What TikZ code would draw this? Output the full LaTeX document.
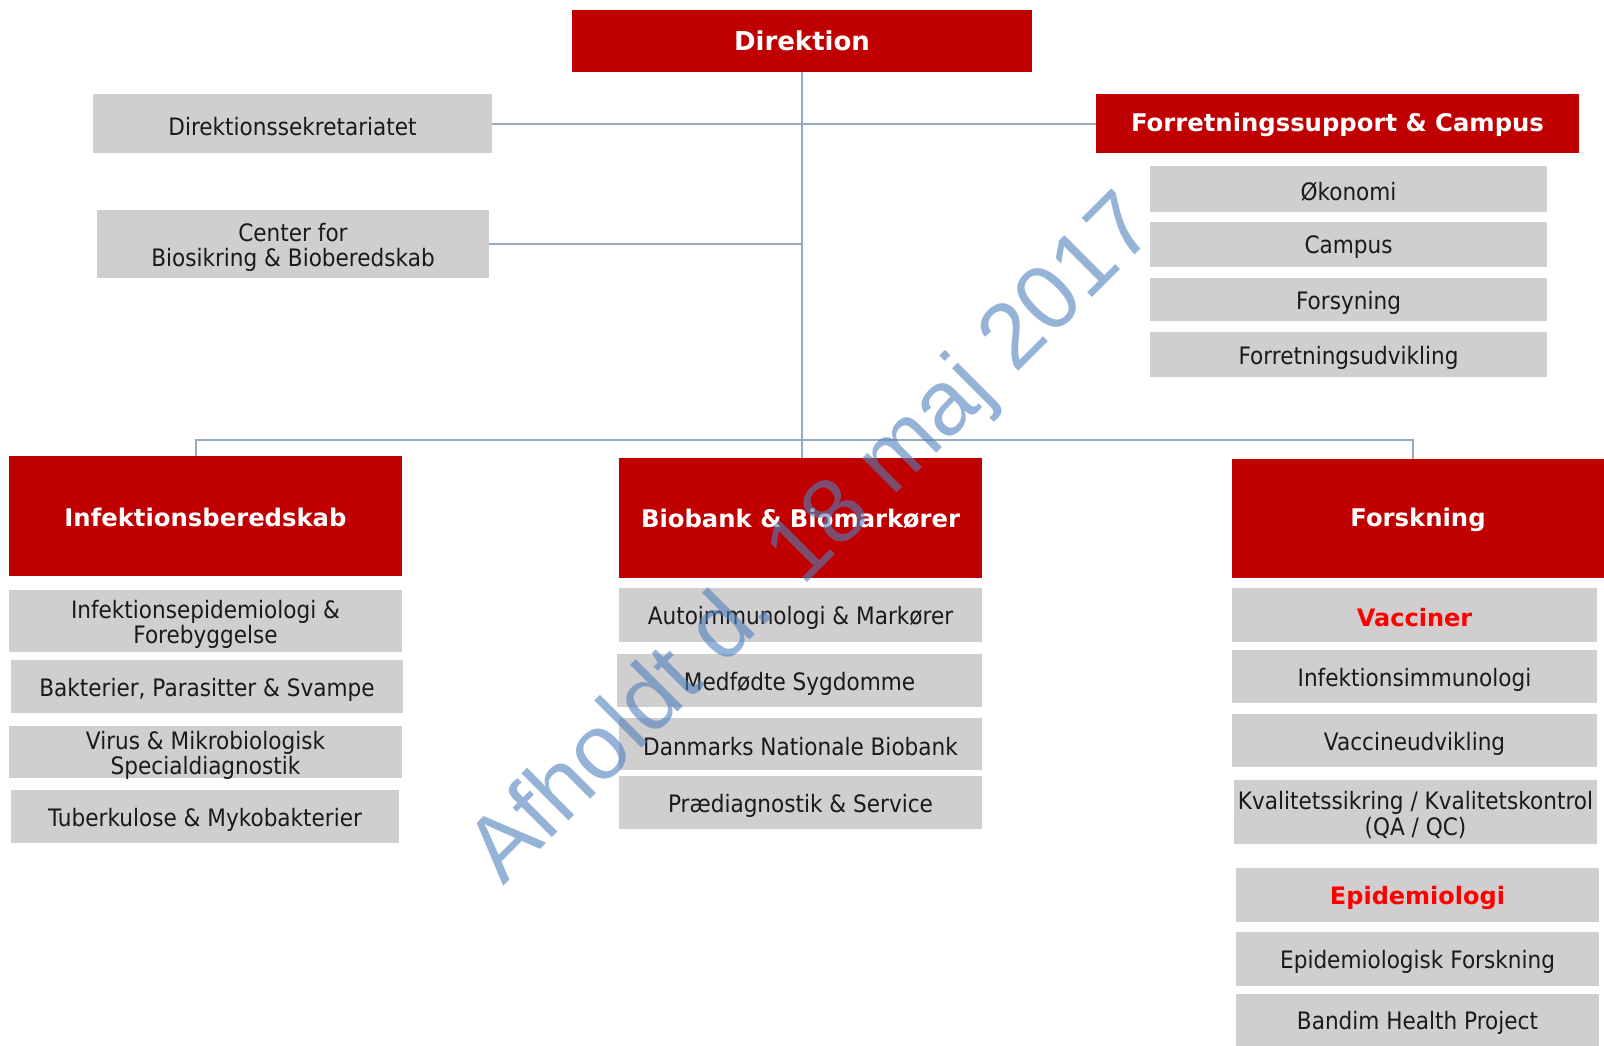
\documentclass[tikz,border=0pt]{standalone}
\usepackage{fontspec}
\setmainfont{DejaVu Sans}[FakeStretch=0.9]
\newfontfamily\headfont{DejaVu Sans}
\newfontfamily\markfont{Liberation Sans}

\definecolor{dkred}{HTML}{C00000}
\definecolor{boxgray}{HTML}{D0CECE}
\definecolor{linkblue}{HTML}{98A9C2}
\definecolor{inkblack}{HTML}{1A1A1A}
\definecolor{markblue}{HTML}{4F81BD}
\definecolor{subred}{HTML}{FF0000}

% box from its corners (x1,y1)-(x2,y2), in pixel units, with its caption on top
\newcommand\boxnode[7]{%
  \pgfmathsetmacro\bw{(#4-#2)*0.5}%
  \pgfmathsetmacro\bh{(#5-#3)*0.5}%
  \node[#6 box, minimum width=\bw pt, minimum height=\bh pt] (#1)
    at ({(#2+#4)/2},{(#3+#5)/2}) {};
  \node[#6 text] (#1-t) at (#1.center) {#7};}

\begin{document}
\begin{tikzpicture}[x=0.5pt, y=-0.5pt,
  boxbase/.style={inner sep=0pt, outer sep=0pt},
  head box/.style={boxbase, fill=dkred},
  top box/.style={boxbase, fill=dkred},
  unit box/.style={boxbase, fill=boxgray},
  sub box/.style={boxbase, fill=boxgray},
  head text/.style={inner sep=0pt, text=white, align=center, yshift=-0.5pt,
    font=\headfont\bfseries\fontsize{12.15}{14}\selectfont},
  top text/.style={inner sep=0pt, text=white, align=center,
    font=\headfont\bfseries\fontsize{13}{15}\selectfont},
  unit text/.style={inner sep=0pt, text=inkblack, align=center, yshift=-1.5pt,
    font=\fontsize{12}{12.6}\selectfont},
  sub text/.style={inner sep=0pt, text=subred, align=center, yshift=-1.5pt,
    font=\headfont\bfseries\fontsize{12}{14}\selectfont},
  link/.style={draw=linkblue, line width=1pt}]

\useasboundingbox (0,0) rectangle (1604,1045);

% top level
\boxnode{dir}{572}{10}{1032}{72}{top}{Direktion}
\boxnode{sek}{93}{94}{492}{153}{unit}{Direktionssekretariatet}
\boxnode{cbb}{97}{210}{489}{278}{unit}{Center for\\Biosikring \& Bioberedskab}

% business support and campus
\boxnode{fsc}{1096}{94}{1579}{153}{head}{Forretningssupport \& Campus}
\boxnode{oko}{1150}{166}{1547}{212}{unit}{Økonomi}
\boxnode{cam}{1150}{222}{1547}{267}{unit}{Campus}
\boxnode{fsy}{1150}{278}{1547}{321}{unit}{Forsyning}
\boxnode{fud}{1150}{332}{1547}{377}{unit}{Forretningsudvikling}

% infection preparedness
\boxnode{inf}{9}{456}{402}{576}{head}{Infektionsberedskab}
\boxnode{iep}{9}{590}{402}{652}{unit}{Infektionsepidemiologi \&\\Forebyggelse}
\boxnode{bps}{11}{660}{403}{713}{unit}{Bakterier, Parasitter \& Svampe}
\boxnode{vms}{9}{726}{402}{778}{unit}{Virus \& Mikrobiologisk\\Specialdiagnostik}
\boxnode{tbm}{11}{790}{399}{843}{unit}{Tuberkulose \& Mykobakterier}

% biobank
\boxnode{bio}{619}{458}{982}{578}{head}{Biobank \& Biomarkører}
\boxnode{aim}{619}{588}{982}{642}{unit}{Autoimmunologi \& Markører}
\boxnode{mfs}{617}{654}{982}{707}{unit}{Medfødte Sygdomme}
\boxnode{dnb}{619}{718}{982}{770}{unit}{Danmarks Nationale Biobank}
\boxnode{pds}{619}{776}{982}{829}{unit}{Prædiagnostik \& Service}

% research
\boxnode{res}{1232}{459}{1604}{578}{head}{Forskning}
\boxnode{vac}{1232}{588}{1597}{642}{sub}{Vacciner}
\boxnode{iim}{1232}{650}{1597}{703}{unit}{Infektionsimmunologi}
\boxnode{vud}{1232}{714}{1597}{767}{unit}{Vaccineudvikling}
\boxnode{qaqc}{1234}{780}{1597}{844}{unit}{Kvalitetssikring / Kvalitetskontrol\\(QA / QC)}
\boxnode{epi}{1236}{868}{1599}{922}{sub}{Epidemiologi}
\boxnode{efo}{1236}{932}{1599}{986}{unit}{Epidemiologisk Forskning}
\boxnode{bhp}{1236}{994}{1599}{1046}{unit}{Bandim Health Project}

% connectors
\coordinate (busL) at (196,439.5);
\coordinate (busR) at (1413,439.5);
\draw[link] (dir.south) -- (dir.south |- bio.north);
\draw[link] (sek.east) -- (fsc.west);
\draw[link] (cbb.east) -- (cbb.east -| dir.south);
\draw[link] (busL |- inf.north) -- (busL) -- (busR) -- (busR |- res.north);

% watermark
\node[anchor=base west, rotate=45, inner sep=0pt, text=markblue, text opacity=0.6,
  font=\markfont\fontsize{46}{50}\selectfont] (mark) at (503,887) {Afholdt d. 18 maj 2017};

\end{tikzpicture}
\end{document}
